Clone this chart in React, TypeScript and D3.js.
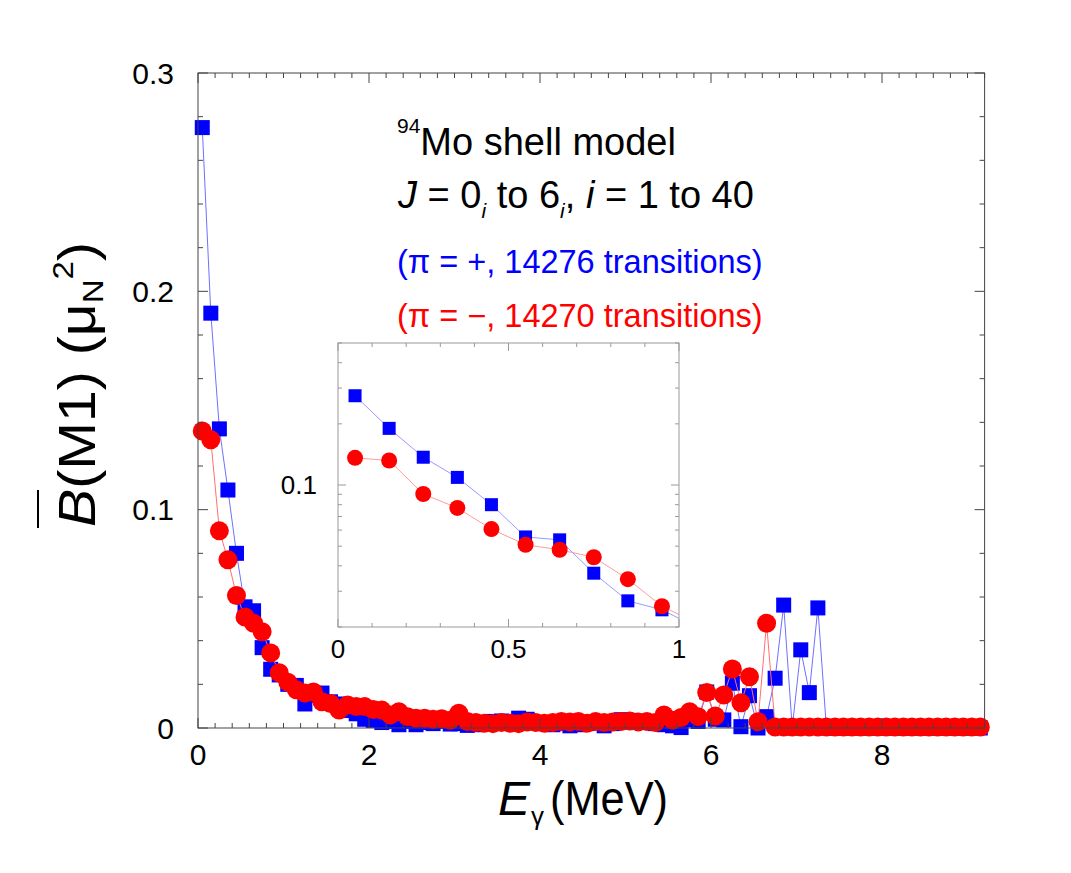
import React, { useEffect, useRef } from "react";
import * as d3 from "d3";

// gamma energy bin centres (MeV)
const energies = [
  0.05, 0.15, 0.25, 0.35, 0.45, 0.55, 0.65, 0.75, 0.85, 0.95,
  1.05, 1.15, 1.25, 1.35, 1.45, 1.55, 1.65, 1.75, 1.85, 1.95,
  2.05, 2.15, 2.25, 2.35, 2.45, 2.55, 2.65, 2.75, 2.85, 2.95,
  3.05, 3.15, 3.25, 3.35, 3.45, 3.55, 3.65, 3.75, 3.85, 3.95,
  4.05, 4.15, 4.25, 4.35, 4.45, 4.55, 4.65, 4.75, 4.85, 4.95,
  5.05, 5.15, 5.25, 5.35, 5.45, 5.55, 5.65, 5.75, 5.85, 5.95,
  6.05, 6.15, 6.25, 6.35, 6.45, 6.55, 6.65, 6.75, 6.85, 6.95,
  7.05, 7.15, 7.25, 7.35, 7.45, 7.55, 7.65, 7.75, 7.85, 7.95,
  8.05, 8.15, 8.25, 8.35, 8.45, 8.55, 8.65, 8.75, 8.85, 8.95,
  9.05, 9.15,
];

// pi = +
const bPlus = [
  0.275, 0.190, 0.137, 0.109, 0.080, 0.0555, 0.0537, 0.0368, 0.0269, 0.0243,
  0.0200, 0.0195, 0.0110, 0.0150, 0.0160, 0.0120, 0.0110, 0.0080, 0.0065, 0.0040,
  0.0035, 0.0025, 0.0030, 0.0015, 0.0030, 0.0015, 0.0025, 0.0020, 0.0030, 0.0018,
  0.0020, 0.0012, 0.0015, 0.0020, 0.0030, 0.0032, 0.0025, 0.0045, 0.0040, 0.0025,
  0.0020, 0.0015, 0.0020, 0.0010, 0.0015, 0.0020, 0.0025, 0.0010, 0.0020, 0.0038,
  0.0035, 0.0025, 0.0030, 0.0020, 0.0015, 0.0010, 0.0002, 0.0037, 0.0030, 0.0165,
  0.0040, 0.0037, 0.0205, 0.0006, 0.0148, 0.0000, 0.0052, 0.0228, 0.0563, 0.0000,
  0.0358, 0.0162, 0.0550, 0, 0, 0, 0, 0, 0, 0,
  0, 0, 0, 0, 0, 0, 0, 0, 0, 0,
  0, 0,
];

// pi = -
const bMinus = [
  0.136, 0.132, 0.0903, 0.0771, 0.0607, 0.0508, 0.0480, 0.0441, 0.0344, 0.0253,
  0.0210, 0.0175, 0.0160, 0.0165, 0.0120, 0.0112, 0.0082, 0.0105, 0.0098, 0.0098,
  0.0085, 0.0082, 0.0060, 0.0075, 0.0052, 0.0045, 0.0045, 0.0040, 0.0042, 0.0035,
  0.0068, 0.0030, 0.0025, 0.0022, 0.0020, 0.0025, 0.0022, 0.0020, 0.0028, 0.0025,
  0.0022, 0.0025, 0.0030, 0.0028, 0.0030, 0.0022, 0.0030, 0.0025, 0.0028, 0.0030,
  0.0032, 0.0028, 0.0030, 0.0025, 0.0060, 0.0035, 0.0048, 0.0075, 0.0052, 0.0163,
  0.0055, 0.0151, 0.0270, 0.0116, 0.0235, 0.0029, 0.0480, 0.0005, 0.0005, 0.0005,
  0.0005, 0.0005, 0.0005, 0.0005, 0.0005, 0.0005, 0.0005, 0.0005, 0.0005, 0.0005,
  0.0005, 0.0005, 0.0005, 0.0005, 0.0005, 0.0005, 0.0005, 0.0005, 0.0005, 0.0005,
  0.0005, 0.0005,
];

const xTicks = [0, 2, 4, 6, 8];
const yTicks = [0, 0.1, 0.2, 0.3];
const yTickLabels = ["0", "0.1", "0.2", "0.3"];
const insetXTicks = [0, 0.5, 1];
const insetXTickLabels = ["0", "0.5", "1"];
const insetYTicks = [0.1];

const BLUE = "#0000ff";
const RED = "#ff0000";
const FONT = "'Liberation Sans', Arial, Helvetica, sans-serif";

function Chart() {
  const ref = useRef(null);

  useEffect(() => {
    const g = d3.select(ref.current);
    g.selectAll("*").remove();

    const pts = energies.map((e, i) => ({ e, p: bPlus[i], m: bMinus[i] }));

    // ---------- main panel ----------
    const x = d3.scaleLinear().domain([0, 9.2]).range([198, 984.6]);
    const y = d3.scaleLinear().domain([0, 0.3]).range([728, 73]);

    const main = g.append("g");
    const lineP = d3.line().x(d => x(d.e)).y(d => y(d.p));
    const lineM = d3.line().x(d => x(d.e)).y(d => y(d.m));

    main.append("path").attr("d", lineP(pts)).attr("fill", "none")
      .attr("stroke", "#7070ff").attr("stroke-width", 1);
    main.selectAll(".sqP").data(pts).enter().append("rect")
      .attr("x", d => x(d.e) - 7.5).attr("y", d => y(d.p) - 7.5)
      .attr("width", 15).attr("height", 15).attr("fill", BLUE);
    main.append("path").attr("d", lineM(pts)).attr("fill", "none")
      .attr("stroke", "#ff7070").attr("stroke-width", 1);
    main.selectAll(".ciM").data(pts).enter().append("circle")
      .attr("cx", d => x(d.e)).attr("cy", d => y(d.m)).attr("r", 9.5).attr("fill", RED);

    // frame + ticks
    const [x0, x1] = x.range();
    const [y0, y1] = y.range();
    const frame = g.append("g").attr("stroke", "#444").attr("stroke-width", 1);
    frame.append("rect").attr("x", x0).attr("y", y1).attr("width", x1 - x0)
      .attr("height", y0 - y1).attr("fill", "none");
    d3.range(0, 9.2001, 0.2).forEach(v => {
      const major = xTicks.some(t => Math.abs(t - v) < 1e-6);
      const L = major ? 10 : 5;
      frame.append("line").attr("x1", x(v)).attr("x2", x(v)).attr("y1", y0).attr("y2", y0 - L);
      frame.append("line").attr("x1", x(v)).attr("x2", x(v)).attr("y1", y1).attr("y2", y1 + L);
    });
    d3.range(0, 0.3001, 0.02).forEach(v => {
      const major = yTicks.some(t => Math.abs(t - v) < 1e-6);
      const L = major ? 10 : 5;
      frame.append("line").attr("x1", x0).attr("x2", x0 + L).attr("y1", y(v)).attr("y2", y(v));
      frame.append("line").attr("x1", x1).attr("x2", x1 - L).attr("y1", y(v)).attr("y2", y(v));
    });

    const labels = g.append("g").attr("font-family", FONT).attr("fill", "#000");
    xTicks.forEach(t => {
      labels.append("text").attr("x", x(t)).attr("y", 765).attr("text-anchor", "middle")
        .attr("font-size", 30).text(String(t));
    });
    yTicks.forEach((t, i) => {
      labels.append("text").attr("x", 174).attr("y", y(t) + 10.5).attr("text-anchor", "end")
        .attr("font-size", 30).text(yTickLabels[i]);
    });

    // ---------- inset ----------
    const ix = d3.scaleLinear().domain([0, 1]).range([338, 679]);
    const iy = d3.scaleLog().domain([0.02, 0.5]).range([627, 343]);
    const [ix0, ix1] = ix.range();
    const [iy0, iy1] = iy.range();

    const inset = g.append("g");
    inset.append("rect").attr("x", ix0).attr("y", iy1).attr("width", ix1 - ix0)
      .attr("height", iy0 - iy1).attr("fill", "#fff");
    g.append("clipPath").attr("id", "insetClip").append("rect")
      .attr("x", ix0).attr("y", iy1).attr("width", ix1 - ix0).attr("height", iy0 - iy1);

    const near = pts.filter(d => d.e < 1.3);
    const data = inset.append("g").attr("clip-path", "url(#insetClip)");
    const iLineP = d3.line().x(d => ix(d.e)).y(d => iy(d.p));
    const iLineM = d3.line().x(d => ix(d.e)).y(d => iy(d.m));
    data.append("path").attr("d", iLineP(near)).attr("fill", "none")
      .attr("stroke", "#8080ff").attr("stroke-width", 0.8);
    data.selectAll(".isq").data(near).enter().append("rect")
      .attr("x", d => ix(d.e) - 6.5).attr("y", d => iy(d.p) - 6.5)
      .attr("width", 13).attr("height", 13).attr("fill", BLUE);
    data.append("path").attr("d", iLineM(near)).attr("fill", "none")
      .attr("stroke", "#ff8080").attr("stroke-width", 0.8);
    data.selectAll(".ici").data(near).enter().append("circle")
      .attr("cx", d => ix(d.e)).attr("cy", d => iy(d.m)).attr("r", 8).attr("fill", RED);

    const iframe = inset.append("g").attr("stroke", "#999").attr("stroke-width", 1);
    iframe.append("rect").attr("x", ix0).attr("y", iy1).attr("width", ix1 - ix0)
      .attr("height", iy0 - iy1).attr("fill", "none");
    d3.range(0, 1.0001, 0.1).forEach(v => {
      const major = insetXTicks.some(t => Math.abs(t - v) < 1e-6);
      const L = major ? 8 : 4;
      iframe.append("line").attr("x1", ix(v)).attr("x2", ix(v)).attr("y1", iy0).attr("y2", iy0 - L);
      iframe.append("line").attr("x1", ix(v)).attr("x2", ix(v)).attr("y1", iy1).attr("y2", iy1 + L);
    });
    iy.ticks(10).forEach(v => {
      const major = insetYTicks.some(t => Math.abs(t - v) < 1e-9);
      const L = major ? 8 : 4;
      iframe.append("line").attr("x1", ix0).attr("x2", ix0 + L).attr("y1", iy(v)).attr("y2", iy(v));
      iframe.append("line").attr("x1", ix1).attr("x2", ix1 - L).attr("y1", iy(v)).attr("y2", iy(v));
    });
    insetXTicks.forEach((t, i) => {
      labels.append("text").attr("x", ix(t)).attr("y", 658).attr("text-anchor", "middle")
        .attr("font-size", 26).text(insetXTickLabels[i]);
    });
    insetYTicks.forEach(t => {
      labels.append("text").attr("x", 317).attr("y", iy(t) + 9).attr("text-anchor", "end")
        .attr("font-size", 26).text(String(t));
    });
  }, []);

  return (
    <svg width={1071} height={873} style={{ position: "absolute", left: 0, top: 0, background: "#fff" }}
      fontFamily={FONT}>
      <g ref={ref} />

      {/* annotation */}
      <text x={397} y={155} fontSize={38}>
        <tspan fontSize={21} dy={-22}>94</tspan>
        <tspan dy={22}>Mo shell model</tspan>
      </text>
      <text x={398} y={208} fontSize={38}>
        <tspan fontStyle="italic">J</tspan>
        <tspan> = 0</tspan>
        <tspan fontSize={21} fontStyle="italic" dy={10}>i</tspan>
        <tspan dy={-10}> to 6</tspan>
        <tspan fontSize={21} fontStyle="italic" dy={10}>i</tspan>
        <tspan dy={-10}>, </tspan>
        <tspan fontStyle="italic">i</tspan>
        <tspan> = 1 to 40</tspan>
      </text>
      <text x={397} y={273} fontSize={32.5} fill={BLUE}>(π = +, 14276 transitions)</text>
      <text x={397} y={327} fontSize={32.5} fill={RED}>(π = −, 14270 transitions)</text>

      {/* x axis title */}
      <text x={498} y={815} fontSize={48} fontStyle="italic">E</text>
      <text x={531} y={825} fontSize={26}>γ</text>
      <text x={550} y={815} fontSize={48} textLength={118} lengthAdjust="spacingAndGlyphs">(MeV)</text>

      {/* y axis title */}
      <line x1={38} x2={38} y1={490} y2={528} stroke="#000" strokeWidth={2} />
      <text transform="translate(95,527) rotate(-90)" fontSize={52} textLength={285}
        lengthAdjust="spacingAndGlyphs">
        <tspan fontStyle="italic">B</tspan>
        <tspan>(M1) (μ</tspan>
        <tspan fontSize={30} dy={8}>N</tspan>
        <tspan fontSize={30} dy={-30}>2</tspan>
        <tspan dy={22}>)</tspan>
      </text>
    </svg>
  );
}

export default function App() {
  return <Chart />;
}
